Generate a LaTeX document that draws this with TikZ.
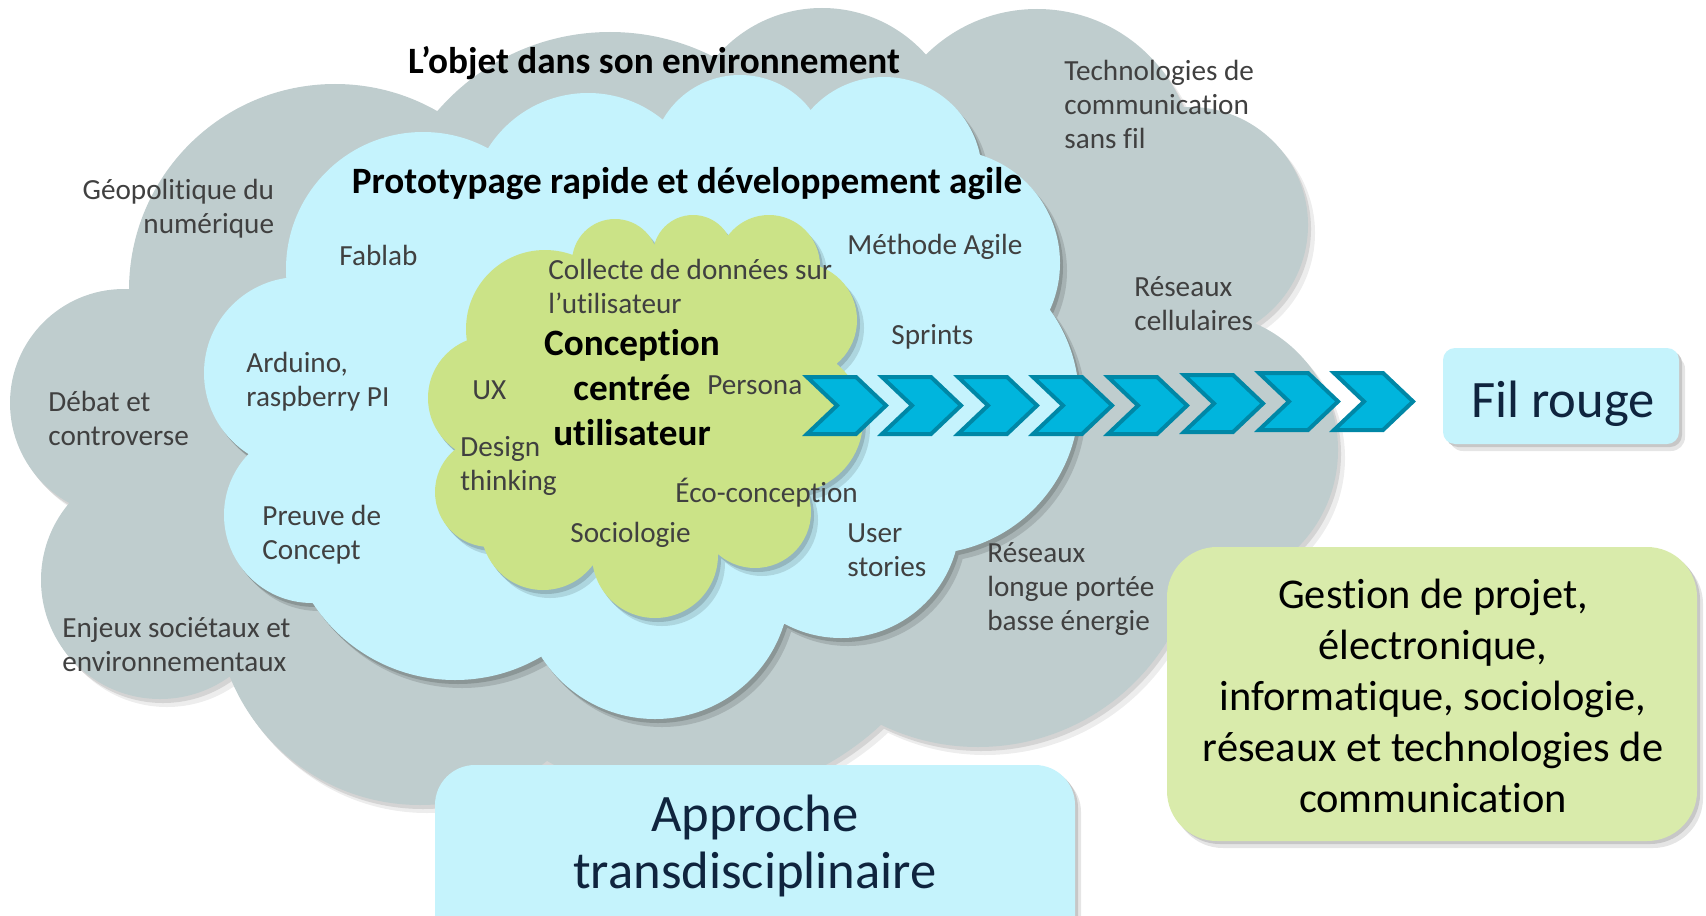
\documentclass[tikz,border=0pt]{standalone}
\usepackage{fontspec}
\setmainfont{Carlito}[Ligatures=NoCommon]
\definecolor{cgray}{HTML}{BFCDCE}
\definecolor{cblue}{HTML}{C5F3FD}
\definecolor{cgreen}{HTML}{CBE387}
\definecolor{chfill}{HTML}{00B5DD}
\definecolor{chline}{HTML}{0087A6}
\definecolor{boxblue}{HTML}{C5F3FC}
\definecolor{boxgreen}{HTML}{D9EBAB}
\definecolor{txtgray}{HTML}{404040}
\definecolor{navy}{HTML}{0F243E}
\newcommand\mylines[2][l]{\begin{tabular}[t]{@{}#1@{}}#2\end{tabular}}
\tikzset{
  gt/.style={font=\fontsize{14.6}{17}\selectfont, text=txtgray, inner sep=0pt},
  bt/.style={font=\fontsize{18.6}{22.5}\selectfont\bfseries, text=black, inner sep=0pt},
  bigt/.style={font=\fontsize{26.3}{28.5}\selectfont, text=navy, inner sep=0pt},
  gboxt/.style={font=\fontsize{21.2}{25.5}\selectfont, text=black, inner sep=0pt},
  chev/.style={fill=chfill, draw=chline, line width=2pt, line join=miter},
}
\def\graycircles{(124,403) circle (114) (335,290) circle (206) (610,260) circle (228) (822,147) circle (139) (1037,167) circle (158) (1190,225) circle (118) (1200,450) circle (138) (978,525) circle (222) (690,520) circle (280) (420,600) circle (205) (160,580) circle (119)}
\def\graypoly{(124,403) -- (335,290) -- (610,260) -- (822,147) -- (1037,167) -- (1190,225) -- (1200,450) -- (978,525) -- (690,520) -- (420,600) -- (160,580) -- cycle}
\def\bluecircles{(423,269) circle (137) (588,211) circle (118) (740,164) circle (89) (884,175) circle (98) (947,263) circle (113) (925,400) circle (154) (841,519) circle (119) (655,584) circle (135) (455,510) circle (170) (312,515) circle (88) (300,373) circle (96)}
\def\bluepoly{(423,269) -- (588,211) -- (740,164) -- (884,175) -- (947,263) -- (925,400) -- (841,519) -- (655,584) -- (455,510) -- (312,515) -- (300,373) -- cycle}
\def\greencircles{(545,329) circle (79) (615,262) circle (43) (693,255) circle (40) (769,266) circle (51) (800,320) circle (57) (790,420) circle (73) (755,512) circle (56) (655,555) circle (63) (543,528) circle (62) (490,492) circle (55) (490,398) circle (62)}
\def\greenpoly{(545,329) -- (615,262) -- (693,255) -- (769,266) -- (800,320) -- (790,420) -- (755,512) -- (655,555) -- (543,528) -- (490,492) -- (490,398) -- cycle}
\begin{document}
\begin{tikzpicture}[x=0.5pt,y=-0.5pt]
\useasboundingbox (0,0) rectangle (1706,915);
\clip (0,0) rectangle (1706,915);
% gray cloud
\begin{scope}[shift={(7,8)}] \fill[black!7] \graycircles; \end{scope}
\begin{scope}[shift={(3,4)}] \fill[black!17] \graycircles; \end{scope}
\fill[cgray] \graypoly;
\fill[cgray] \graycircles;
% blue cloud
\begin{scope}[shift={(7,8)}] \fill[cgray!87!black] \bluecircles; \end{scope}
\begin{scope}[shift={(3,4)}] \fill[cgray!73!black] \bluecircles; \end{scope}
\fill[cblue] \bluepoly;
\fill[cblue] \bluecircles;
% green cloud
\begin{scope}[shift={(7,8)}] \fill[cblue!88!black] \greencircles; \end{scope}
\begin{scope}[shift={(3,4)}] \fill[cblue!75!black] \greencircles; \end{scope}
\fill[cgreen] \greenpoly;
\fill[cgreen] \greencircles;
% chevrons
\foreach \xx/\yy in {807/377, 882/377, 958/377, 1033/377, 1108/377, 1184/375, 1259/373, 1334/373}
  \draw[chev] (\xx,\yy) -- ++(49,0) -- ++(30,28.5) -- ++(-30,28.5) -- ++(-49,0) -- ++(30,-28.5) -- cycle;
% texts in clouds
\node[bt, anchor=base] (objet) at (654,74) {L’objet dans son environnement};
\node[bt, anchor=base] (proto) at (687,193) {Prototypage rapide et développement agile};
\node[gt, anchor=base west] (techno) at (1064,81) {\mylines{Technologies de\\communication\\sans fil}};
\node[gt, anchor=base east] (geo) at (274.5,199) {\mylines[r]{Géopolitique du\\numérique}};
\node[gt, anchor=base west] (cell) at (1134,296) {\mylines{Réseaux\\cellulaires}};
\node[gt, anchor=base west] (debat) at (48,411) {\mylines{Débat et\\controverse}};
\node[gt, anchor=base west] (lpwan) at (987,562) {\mylines{Réseaux\\longue portée\\basse énergie}};
\node[gt, anchor=base west] (enjeux) at (62,637) {\mylines{Enjeux sociétaux et\\environnementaux}};
\node[gt, anchor=base west] (fablab) at (339,265) {Fablab};
\node[gt, anchor=base west] (agile) at (847,254) {Méthode Agile};
\node[gt, anchor=base west] (arduino) at (246,372) {\mylines{Arduino,\\raspberry PI}};
\node[gt, anchor=base west] (sprints) at (891,344) {Sprints};
\node[gt, anchor=base west] (preuve) at (262,525) {\mylines{Preuve de\\Concept}};
\node[gt, anchor=base west] (user) at (847,542) {\mylines{User\\stories}};
\node[gt, anchor=base west] (collecte) at (548,279) {\mylines{Collecte de données sur\\l’utilisateur}};
\node[bt, anchor=base] (ccu) at (632,355) {\mylines[c]{Conception\\centrée\\utilisateur}};
\node[gt, anchor=base west] (ux) at (472,399) {UX};
\node[gt, anchor=base west] (persona) at (707,394) {Persona};
\node[gt, anchor=base west] (design) at (460,456) {\mylines{Design\\thinking}};
\node[gt, anchor=base west] (eco) at (675,502) {Éco-conception};
\node[gt, anchor=base west] (socio) at (570,542) {Sociologie};
% boxes
\fill[black!10, rounded corners=7pt] (1449,355) rectangle (1685,451);
\fill[black!22, rounded corners=6pt] (1446,351) rectangle (1682,447);
\fill[boxblue, rounded corners=6pt] (1443,348) rectangle (1679,444);
\node[bigt, anchor=base] (filrouge) at (1563,417) {Fil rouge};
\fill[black!10, rounded corners=25pt] (1173,554) rectangle (1703,848);
\fill[black!22, rounded corners=25pt] (1170,550) rectangle (1700,844);
\fill[boxgreen, rounded corners=25pt] (1167,547) rectangle (1697,841);
\node[gboxt, anchor=base] (gestion) at (1433,608) {\mylines[c]{Gestion de projet,\\électronique,\\informatique, sociologie,\\réseaux et technologies de\\communication}};
\fill[black!10, rounded corners=20pt] (441,772) rectangle (1081,980);
\fill[black!22, rounded corners=20pt] (438,768) rectangle (1078,976);
\fill[boxblue, rounded corners=20pt] (435,765) rectangle (1075,972);
\node[bigt, anchor=base] (approche) at (755,831) {\mylines[c]{Approche\\transdisciplinaire}};
\end{tikzpicture}
\end{document}
